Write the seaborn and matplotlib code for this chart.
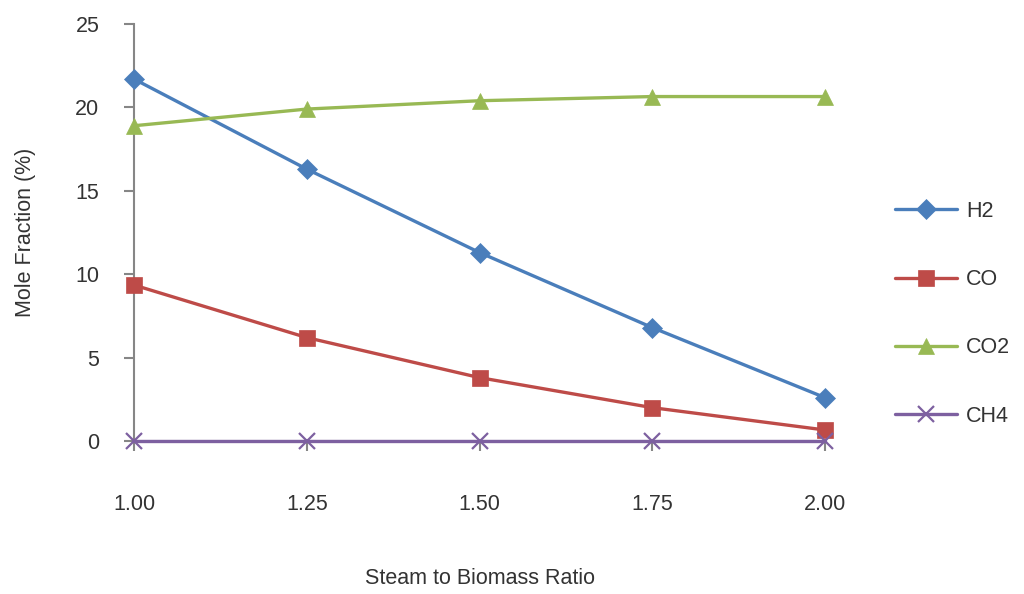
import matplotlib
matplotlib.use("Agg")
import matplotlib.pyplot as plt
import seaborn as sns
import pandas as pd

# Steam-to-biomass ratio and gas composition (mole %)
ratio = [1.00, 1.25, 1.50, 1.75, 2.00]
h2 = [21.7, 16.3, 11.3, 6.8, 2.6]
co = [9.35, 6.2, 3.8, 2.0, 0.66]
co2 = [18.9, 19.9, 20.4, 20.65, 20.65]
ch4 = [0.0, 0.0, 0.0, 0.0, 0.0]

species = ["H2", "CO", "CO2", "CH4"]
values = [h2, co, co2, ch4]
colors = ["#4A7EBB", "#BE4B48", "#98B954", "#7D60A0"]
markers = ["D", "s", "^", "x"]
msizes = [10.5, 11.5, 12, 11.5]

sns.set_theme(style="white")
plt.rcParams["font.family"] = ["Liberation Sans", "DejaVu Sans"]

fig = plt.figure(figsize=(10.24, 5.94), dpi=100)
ax = fig.add_axes([134 / 1024, 1 - 441 / 594, (825 - 134) / 1024, (441 - 24) / 594])

frames = []
for name, vals in zip(species, values):
    frames.append(pd.DataFrame({"ratio": ratio, "fraction": vals, "gas": name}))
df = pd.concat(frames, ignore_index=True)

for name, col, mk, ms in zip(species, colors, markers, msizes):
    sub = df[df["gas"] == name]
    sns.lineplot(data=sub, x="ratio", y="fraction", ax=ax, color=col, marker=mk,
                 markersize=ms, linewidth=2.4, label=name, clip_on=False,
                 markeredgecolor=col, markeredgewidth=1.6 if mk == "x" else 0.5,
                 zorder=3)

ax.set_xlim(1.0, 2.0)
ax.set_ylim(0, 25)
ax.set_xticks(ratio)
ax.set_xticklabels([f"{r:.2f}" for r in ratio])
ax.set_yticks([0, 5, 10, 15, 20, 25])

for side in ["top", "right"]:
    ax.spines[side].set_visible(False)
for side in ["left", "bottom"]:
    ax.spines[side].set_color("#868686")
    ax.spines[side].set_linewidth(1.5)

text_color = "#333333"
fs = 15.5
ax.tick_params(axis="y", direction="out", length=7, width=1.5, color="#868686",
               pad=18, labelsize=fs, labelcolor=text_color, left=True)
ax.tick_params(axis="x", direction="out", length=7, width=1.5, color="#868686",
               pad=31, labelsize=fs, labelcolor=text_color, bottom=True)

ax.set_xlabel("")
ax.set_ylabel("Mole Fraction (%)", fontsize=fs, color=text_color, labelpad=28)
fig.text(480 / 1024, 1 - 578 / 594, "Steam to Biomass Ratio", fontsize=fs,
         color=text_color, ha="center", va="center")

leg = ax.legend(loc="center left", bbox_to_anchor=((895 - 134) / 691, 0.305),
                frameon=False, fontsize=fs, labelspacing=2.2, handlelength=2.9,
                handletextpad=0.4, borderaxespad=0, borderpad=0)
for t in leg.get_texts():
    t.set_color(text_color)

fig.savefig("out.png", dpi=100, facecolor="white")
